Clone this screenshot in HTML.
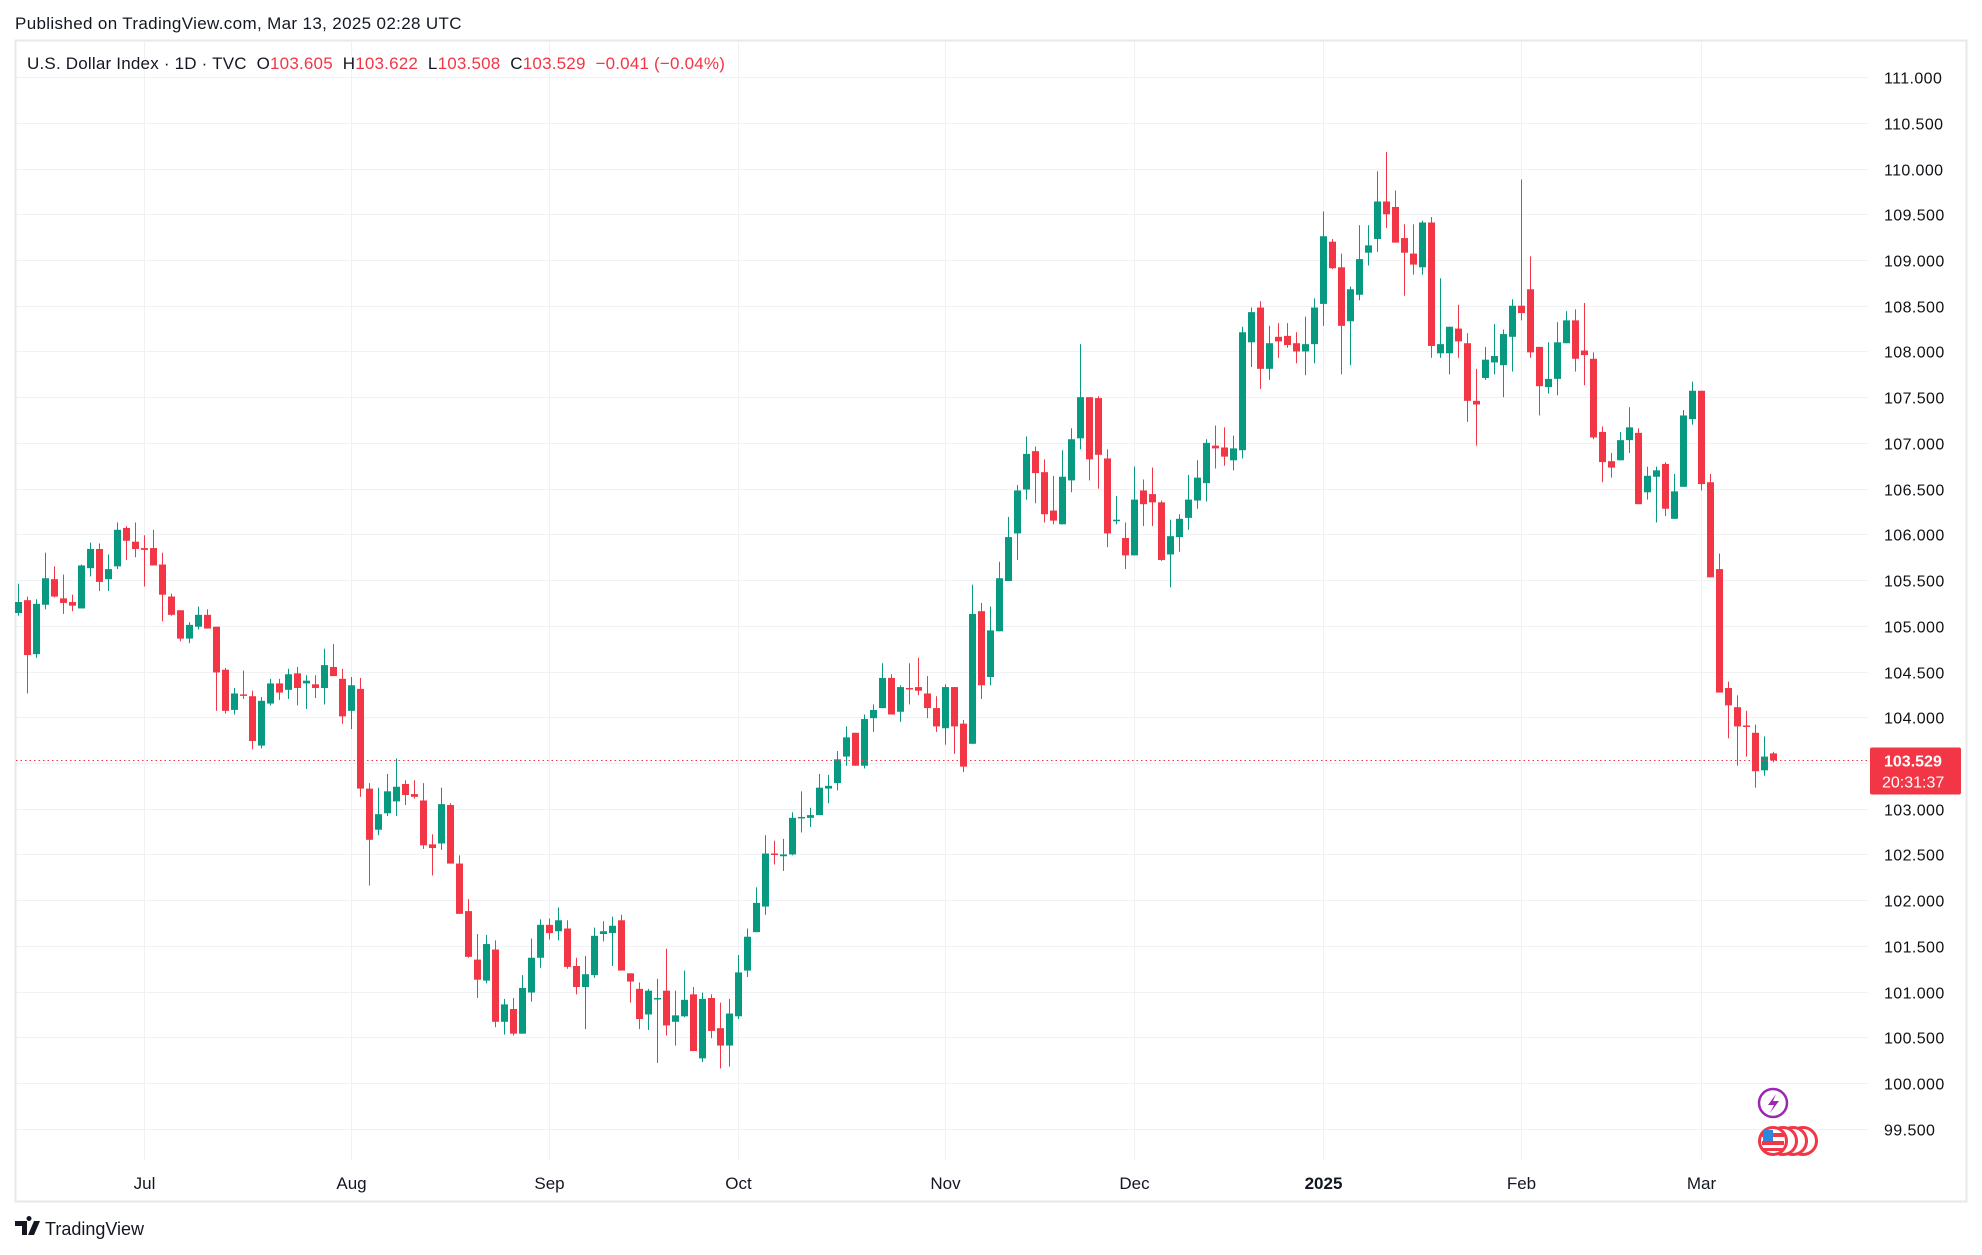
<!DOCTYPE html>
<html><head><meta charset="utf-8">
<style>
html,body{margin:0;padding:0;background:#fff;width:1982px;height:1255px;overflow:hidden;font-family:"Liberation Sans",sans-serif;color:#131722}
svg{position:absolute;left:0;top:0}
</style></head>
<body>
<svg id="chart" width="1982" height="1255" viewBox="0 0 1982 1255">
  <text x="15" y="29" font-size="17" letter-spacing="0.35" fill="#131722">Published on TradingView.com, Mar 13, 2025 02:28 UTC</text>
  <rect x="15.5" y="40.5" width="1951" height="1161" fill="#fff" stroke="#e8e8ea" stroke-width="2"/>
  <g id="grid"></g>
  <g id="candles"></g>
  <g id="yaxis"></g>
  <g id="xaxis"></g>
  <text x="27" y="69" font-size="17" letter-spacing="0.2"><tspan fill="#131722">U.S. Dollar Index · 1D · TVC&#160;&#160;O</tspan><tspan fill="#f23645">103.605</tspan><tspan fill="#131722">&#160;&#160;H</tspan><tspan fill="#f23645">103.622</tspan><tspan fill="#131722">&#160;&#160;L</tspan><tspan fill="#f23645">103.508</tspan><tspan fill="#131722">&#160;&#160;C</tspan><tspan fill="#f23645">103.529&#160;&#160;−0.041 (−0.04%)</tspan></text>
  <g>
    <ellipse cx="1773" cy="1103" rx="14" ry="14" fill="#fff" stroke="#9c27b0" stroke-width="2.5"/>
    <path d="M1776 1094 L1768 1105 L1774 1105 L1770 1113 L1779 1101 L1773 1101 Z" fill="#9c27b0"/>
  </g>
  <g>
    <circle cx="1803" cy="1141" r="13.5" fill="#fff" stroke="#f23645" stroke-width="3"/>
    <circle cx="1793" cy="1141" r="13.5" fill="#fff" stroke="#f23645" stroke-width="3"/>
    <circle cx="1783" cy="1141" r="13.5" fill="#fff" stroke="#f23645" stroke-width="3"/>
    <circle cx="1773" cy="1141" r="13.5" fill="#fff" stroke="#f23645" stroke-width="3"/>
    <rect x="1762" y="1133" width="22" height="4" fill="#f23645"/>
    <rect x="1762" y="1141" width="22" height="4" fill="#f23645"/>
    <rect x="1763" y="1148" width="20" height="3" fill="#f23645"/>
    <rect x="1763" y="1130" width="10" height="11" fill="#2e86de"/>
  </g>
  <g>
    <path d="M15 1221 h12 v14 h-5 v-9 h-7z M29 1221 a2.5 2.5 0 1 1 0.01 0z M34 1221 h6 l-6 14 h-6z" fill="#131722"/>
    <text x="45" y="1235" font-size="18" fill="#131722">TradingView</text>
  </g>
</svg>
<script>
const opens=[105.14,105.28,104.69,105.23,105.51,105.30,105.26,105.19,105.63,105.84,105.51,105.65,106.07,105.92,105.85,105.85,105.67,105.32,105.17,104.86,104.99,105.12,104.99,104.52,104.08,104.25,104.23,103.69,104.15,104.37,104.30,104.48,104.37,104.36,104.32,104.55,104.42,104.07,104.31,
103.22,102.77,102.95,103.08,103.27,103.16,103.09,102.61,102.62,103.04,102.40,101.88,101.35,101.12,101.46,100.67,100.81,100.54,100.99,101.37,101.73,101.66,101.69,101.28,101.05,101.18,101.63,101.64,101.78,101.20,101.03,100.75,100.93,101.01,100.67,100.73,100.97,100.27,100.93,100.60,100.41,100.73,101.23,
101.65,101.93,102.51,102.48,102.50,102.90,102.90,102.93,103.22,103.28,103.57,103.83,103.47,103.99,104.10,104.43,104.06,104.32,104.33,104.26,104.10,103.88,104.33,103.93,103.71,
105.16,104.44,104.94,105.49,106.01,106.49,106.91,106.68,106.26,106.11,106.59,107.05,107.50,107.49,106.83,106.16,105.96,105.77,106.48,106.44,106.35,105.78,105.97,106.18,106.37,
106.56,106.97,106.95,106.81,106.92,108.10,108.48,107.81,108.16,108.17,108.09,108.00,108.08,108.52,109.20,108.92,108.33,108.62,109.08,109.23,109.64,109.58,109.24,109.07,108.92,
109.41,107.98,107.98,108.25,108.09,107.46,107.71,107.88,107.85,108.16,108.50,108.68,108.05,107.61,107.70,108.09,108.34,108.01,107.92,107.12,106.80,106.81,107.03,107.11,106.46,106.63,
106.77,106.17,106.52,107.26,107.57,106.57,105.62,104.32,104.11,103.91,103.83,103.42,103.605];
const highs=[105.46,105.32,105.29,105.80,105.65,105.56,105.34,105.67,105.91,105.90,105.78,106.13,106.09,106.13,105.99,106.05,105.80,105.35,105.17,105.04,105.21,105.18,104.99,104.54,104.32,104.51,104.29,104.22,104.42,104.42,104.53,104.55,104.46,104.46,104.75,104.80,104.53,104.44,104.43,
103.28,103.23,103.38,103.55,103.31,103.31,103.28,102.72,103.23,103.06,102.49,102.01,101.63,101.62,101.56,100.92,100.93,101.18,101.58,101.79,101.80,101.92,101.78,101.37,101.39,101.70,101.77,101.82,101.84,101.20,101.10,101.03,101.14,101.47,101.01,101.23,101.05,100.99,100.97,100.88,100.92,101.40,101.69,
102.14,102.71,102.65,102.67,102.96,103.19,103.01,103.38,103.37,103.63,103.90,103.83,104.03,104.14,104.59,104.47,104.35,104.59,104.65,104.45,104.23,104.36,104.33,103.97,105.45,
105.25,105.21,105.70,106.19,106.54,107.07,106.96,106.82,106.64,106.92,107.16,108.08,107.50,107.51,106.93,106.42,106.13,106.74,106.60,106.73,106.37,106.16,106.22,106.65,106.81,
107.04,107.19,107.17,107.08,108.27,108.48,108.55,108.28,108.31,108.31,108.21,108.38,108.58,109.53,109.23,109.07,108.71,109.38,109.38,109.97,110.18,109.76,109.39,109.39,109.43,
109.47,108.80,108.27,108.51,108.20,107.81,108.05,108.30,108.24,108.57,109.88,109.04,108.05,108.10,108.32,108.44,108.46,108.53,107.99,107.18,106.89,107.12,107.39,107.16,106.74,106.74,
106.79,106.66,107.36,107.67,107.57,106.66,105.79,104.39,104.24,104.07,103.92,103.79,103.622];
const lows=[105.11,104.26,104.65,105.18,105.31,105.13,105.16,105.19,105.54,105.38,105.38,105.62,105.72,105.75,105.43,105.66,105.05,105.11,104.83,104.81,104.96,104.97,104.07,104.04,104.03,104.20,103.65,103.66,104.13,104.19,104.20,104.13,104.09,104.21,104.14,104.45,103.93,103.87,103.13,
102.16,102.71,102.92,102.92,103.04,103.11,102.56,102.27,102.55,102.40,101.85,101.37,100.93,101.09,100.61,100.53,100.52,100.54,100.89,101.26,101.57,101.56,101.25,100.97,100.59,101.15,101.55,101.28,101.23,100.88,100.59,100.58,100.22,100.52,100.41,100.72,100.35,100.23,100.49,100.16,100.18,100.70,101.16,
101.65,101.84,102.39,102.32,102.49,102.74,102.80,102.93,103.06,103.20,103.47,103.47,103.44,103.84,104.10,104.03,103.95,104.14,104.24,103.99,103.84,103.70,103.60,103.40,103.71,
104.20,104.35,104.94,105.49,105.72,106.38,106.34,106.13,106.11,106.11,106.46,106.93,106.59,106.50,105.86,106.11,105.62,105.77,106.09,106.09,105.71,105.42,105.81,106.05,106.28,
106.36,106.72,106.75,106.70,106.83,107.83,107.59,107.69,107.93,108.04,107.87,107.74,107.87,108.28,108.90,107.75,107.85,108.56,108.94,109.09,109.35,109.19,108.61,108.84,108.84,
107.93,107.93,107.75,107.93,107.23,106.97,107.69,107.75,107.50,107.78,108.34,107.93,107.30,107.54,107.52,108.09,107.78,107.63,107.04,106.57,106.62,106.81,106.89,106.33,106.38,106.13,
106.20,106.17,106.52,107.20,106.48,105.53,104.27,103.77,103.47,103.57,103.23,103.36,103.508];
const closes=[105.26,104.68,105.24,105.52,105.32,105.25,105.22,105.66,105.84,105.48,105.62,106.05,105.93,105.84,105.83,105.66,105.34,105.12,104.86,105.01,105.12,104.97,104.49,104.07,104.26,104.24,103.74,104.18,104.37,104.27,104.47,104.32,104.40,104.32,104.57,104.45,104.01,104.35,103.22,
102.66,102.94,103.19,103.24,103.15,103.13,102.60,102.57,103.05,102.40,101.85,101.38,101.13,101.52,100.67,100.86,100.54,101.04,101.37,101.73,101.64,101.78,101.27,101.05,101.19,101.61,101.66,101.72,101.23,101.11,100.70,101.01,100.93,100.63,100.74,100.91,100.35,100.92,100.57,100.41,100.76,101.21,101.60,
101.97,102.51,102.50,102.50,102.90,102.91,102.93,103.23,103.25,103.54,103.78,103.47,103.98,104.08,104.43,104.03,104.33,104.31,104.29,104.10,103.90,104.33,103.90,103.46,105.13,
104.35,104.95,105.52,105.97,106.48,106.88,106.67,106.22,106.15,106.63,107.04,107.50,106.82,106.87,106.01,106.16,105.77,106.38,106.33,106.35,105.72,105.98,106.17,106.38,106.62,
107.00,106.94,106.85,106.94,108.21,108.43,107.81,108.09,108.11,108.07,108.00,108.08,108.48,109.26,108.91,108.28,108.68,109.01,109.16,109.64,109.50,109.19,109.08,108.95,109.41,
108.06,108.08,108.27,108.11,107.46,107.42,107.91,107.95,108.19,108.50,108.42,107.99,107.62,107.70,108.10,108.34,107.92,107.96,107.06,106.79,106.73,107.03,107.17,106.33,106.64,106.70,
106.28,106.47,107.30,107.57,106.55,105.53,104.27,104.13,103.90,103.90,103.41,103.57,103.529];
const priceTicks=[111,110.5,110,109.5,109,108.5,108,107.5,107,106.5,106,105.5,105,104.5,104,103.5,103,102.5,102,101.5,101,100.5,100,99.5];
const monthLabels=["Jul","Aug","Sep","Oct","Nov","Dec","2025","Feb","Mar"];
const monthIndex=[14,37,59,80,103,124,145,167,187];
const lastPrice=103.529;
const countdown="20:31:37";

const NS="http://www.w3.org/2000/svg";
const X0=18.3, STEP=9.0, Y0=77.1, PXU=91.45, PANE_R=1868, PANE_B=1160;
function xScale(i){return X0+i*STEP;}
function yScale(p){return Y0+(111-p)*PXU;}
function mk(tag,attrs,parent){const e=document.createElementNS(NS,tag);for(const k in attrs)e.setAttribute(k,attrs[k]);parent.appendChild(e);return e;}

const grid=document.getElementById('grid');
const yaxis=document.getElementById('yaxis');
const xaxis=document.getElementById('xaxis');
const cg=document.getElementById('candles');

priceTicks.forEach(p=>{
  const y=Math.round(yScale(p))+0.5;
  const l=mk('line',{x1:16,x2:PANE_R,y1:y,y2:y,stroke:'#f0f1f4','stroke-width':1},grid);
  
  
  const t=mk('text',{x:1884,y:y+6,'font-size':16,fill:'#0f1115','letter-spacing':'0.4'},yaxis);
  t.textContent=p.toFixed(3);
  
  
});
monthLabels.forEach((m,k)=>{
  const x=Math.round(xScale(monthIndex[k]))+0.5;
  const l=mk('line',{x1:x,x2:x,y1:41,y2:PANE_B,stroke:'#f0f1f4','stroke-width':1},grid);
  
  
  const t=mk('text',{x:x,y:1189,'font-size':17,'text-anchor':'middle',fill:'#131722','font-weight':m==='2025'?'bold':'normal'},xaxis);
  t.textContent=m;
  
  
});

for(let i=0;i<opens.length;i++){
  const up=closes[i]>=opens[i];
  const col=up?'#089981':'#f23645';
  const x=Math.round(xScale(i));
  const g=mk('g',{},cg);
  
  
  mk('rect',{x:x,y:yScale(highs[i]),width:1,height:Math.max(1,yScale(lows[i])-yScale(highs[i])),fill:col},g);
  const top=yScale(Math.max(opens[i],closes[i])), bot=yScale(Math.min(opens[i],closes[i]));
  mk('rect',{x:x-3,y:top,width:7,height:Math.max(1.5,bot-top),fill:col},g);
}

const ly=Math.round(yScale(lastPrice))+0.5;
const pl=mk('line',{x1:16,x2:1870,y1:ly,y2:ly,stroke:'#f23645','stroke-width':1,'stroke-dasharray':'1.5 3'},cg);


const tag=mk('g',{},yaxis);


mk('rect',{x:1870,y:ly-13,width:91,height:47,rx:2,fill:'#f23645'},tag);
const t1=mk('text',{x:1884,y:ly+6,'font-size':16,fill:'#fff','font-weight':'bold'},tag);t1.textContent=lastPrice.toFixed(3);
const t2=mk('text',{x:1882,y:ly+27,'font-size':16,fill:'#ffffff'},tag);t2.textContent=countdown;
</script>
</body></html>
